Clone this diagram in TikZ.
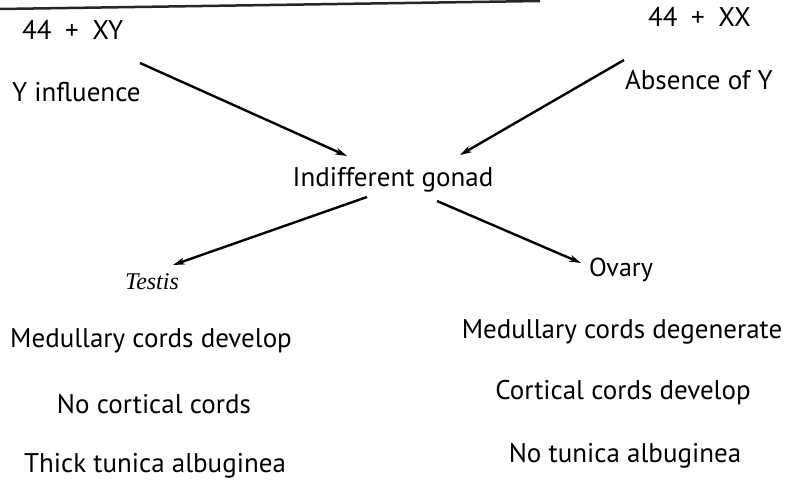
\documentclass[tikz,border=0pt]{standalone}
\usepackage{fontspec}
\setmainfont{PT Sans}
\newfontfamily\testisfont{Liberation Serif}
\usetikzlibrary{arrows.meta}
\tikzset{
  lbl/.style={inner sep=0pt, font=\fontsize{27}{30}\selectfont},
  conn/.style={line width=2.4pt, -{Stealth[length=12pt,width=7pt]}},
}
\begin{document}
\begin{tikzpicture}[x=1pt,y=-1pt]
\useasboundingbox (0,0) rectangle (787,495);
\draw[line width=2.5pt, black!85] (0,9) -- (540,1);
\node[lbl, anchor=west] (xy) at (22,30) {44\enspace+\enspace XY};
\node[lbl, anchor=east] (xx) at (751,17) {44\enspace+\enspace XX};
\node[lbl, anchor=west] (yinf) at (12,92) {Y influence};
\node[lbl, anchor=east] (absy) at (773,80) {Absence of Y};
\node[lbl] (gonad) at (393,180) {Indifferent gonad};
\node[inner sep=0pt, font=\testisfont\itshape\fontsize{24}{26}\selectfont] (testis) at (152,282) {Testis};
\node[inner sep=0pt, font=\fontsize{26}{28}\selectfont] (ovary) at (621,270) {Ovary};
\node[lbl] (t1) at (151,341) {Medullary cords develop};
\node[lbl] (t2) at (154,404) {No cortical cords};
\node[lbl] (t3) at (155,466) {Thick tunica albuginea};
\node[lbl] (o1) at (622,332) {Medullary cords degenerate};
\node[lbl] (o2) at (623,393) {Cortical cords develop};
\node[lbl] (o3) at (625,456) {No tunica albuginea};
\coordinate (a1s) at (140,63);
\coordinate (a1e) at (347,156);
\coordinate (a2s) at (624,60);
\coordinate (a2e) at (460,155);
\coordinate (a3s) at (367,197);
\coordinate (a3e) at (173,265);
\coordinate (a4s) at (437,201);
\coordinate (a4e) at (581,263);
\draw[conn] (a1s) -- (a1e);
\draw[conn] (a2s) -- (a2e);
\draw[conn] (a3s) -- (a3e);
\draw[conn] (a4s) -- (a4e);
\end{tikzpicture}
\end{document}
